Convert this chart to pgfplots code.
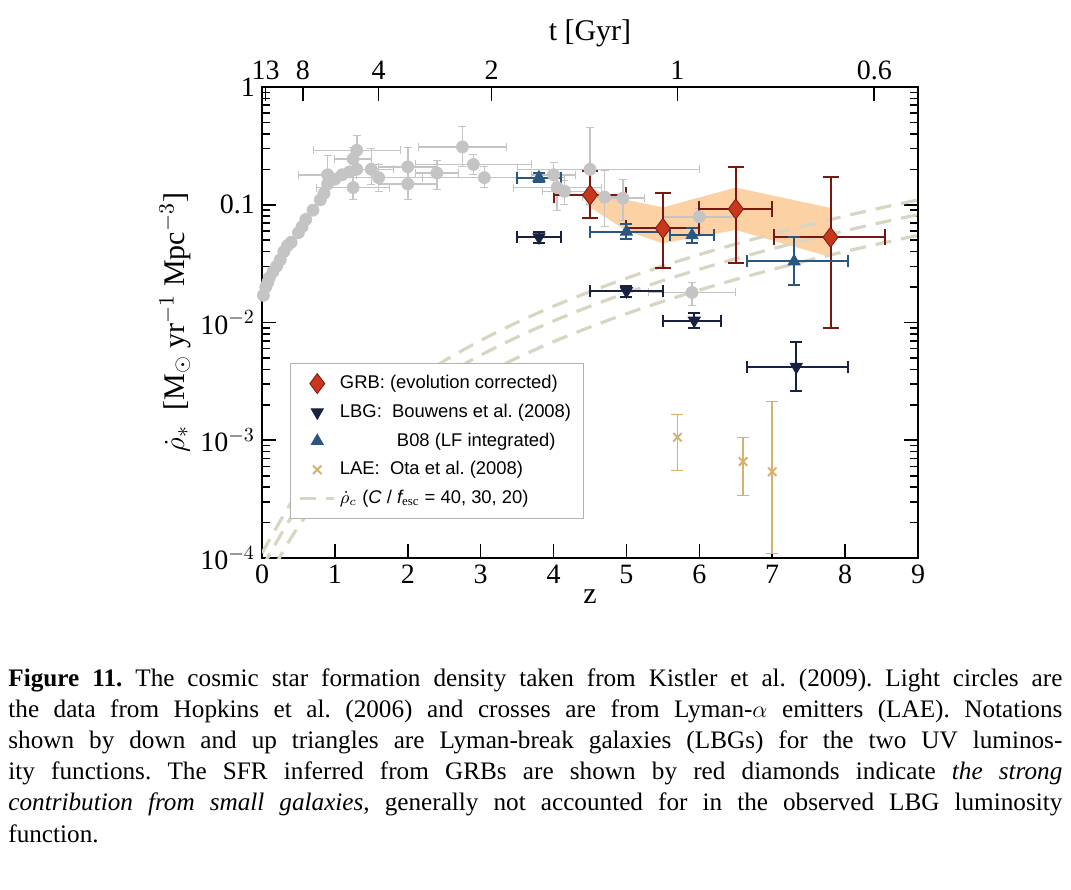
\documentclass[border=0pt]{standalone}
\usepackage{fontspec}
\setmainfont{Liberation Serif}
\newfontfamily\sans{Liberation Sans}
\usepackage{pgfplots}
\pgfplotsset{compat=1.18}
\definecolor{grbfill}{HTML}{C8361C}
\definecolor{grbdraw}{HTML}{7A1712}
\definecolor{lbgdn}{HTML}{16223F}
\definecolor{lbgup}{HTML}{2A5682}
\definecolor{lae}{HTML}{D6B26E}
\definecolor{hop}{HTML}{C4C4C4}
\definecolor{crit}{HTML}{D8D6C2}
\definecolor{band}{HTML}{FCD2A4}
\frenchspacing
\begin{document}
\begin{tikzpicture}
\path[use as bounding box] (0,0) rectangle (535.5pt,-444.5pt);
\begin{axis}[
  at={(131pt,-279pt)}, anchor=south west,
  scale only axis, width=328pt, height=235.5pt,
  xmin=0, xmax=9, ymin=1e-4, ymax=1, ymode=log,
  xtick={0,...,9}, ytick={1e-4,1e-3,1e-2,0.1,1},
  yticklabels={10$^{-4}$,10$^{-3}$,10$^{-2}$,0.1,1},
  /pgf/number format/assume math mode=true,
  tick label style={font=\fontsize{14}{14}\selectfont},
  xlabel={z}, xlabel style={font=\fontsize{15}{15}\selectfont, yshift=4pt},
  ylabel={$\dot\rho_*$ \ [M$_\odot$ yr$^{-1}$ Mpc$^{-3}$]},
  ylabel style={font=\fontsize{15}{15}\selectfont, yshift=-2pt},
  xtick pos=bottom,
  major tick length=7pt, minor tick length=4pt,
  tick style={black, line width=0.8pt},
  axis line style={line width=0.8pt},
  legend style={at={(0.043,0.414)}, anchor=north west, font=\sans\fontsize{9.2}{11}\selectfont, draw=black!30, row sep=2.2pt, inner xsep=4pt, inner ysep=4pt, cells={anchor=west}},
  legend cell align=left,
]
% Orange band
\addplot[fill=band, draw=none, forget plot] coordinates {(4.45,0.14)(5.0,0.11)(5.5,0.095)(6.5,0.14)(7.8,0.094)(7.8,0.036)(6.5,0.061)(5.5,0.047)(5.0,0.06)(4.45,0.10)} -- cycle;
% Critical curves
\addplot[crit, line width=1.6pt, dash pattern=on 8pt off 5pt, forget plot, smooth] coordinates {(0,1.1e-4)(0.5,3.71e-4)(1,8.8e-4)(1.5,1.72e-3)(2,2.97e-3)(2.5,4.72e-3)(3,7.04e-3)(3.5,0.01002)(4,0.01375)(4.5,0.0183)(5,0.02376)(5.5,0.03021)(6,0.03773)(6.5,0.04641)(7,0.05632)(7.5,0.06755)(8,0.08019)(8.5,0.09431)(9,0.11)};
\addplot[crit, line width=1.6pt, dash pattern=on 8pt off 5pt, forget plot, smooth] coordinates {(0,8.25e-5)(0.5,2.78e-4)(1,6.6e-4)(1.5,1.29e-3)(2,2.23e-3)(2.5,3.54e-3)(3,5.28e-3)(3.5,7.52e-3)(4,0.01031)(4.5,0.01373)(5,0.01782)(5.5,0.02266)(6,0.0283)(6.5,0.03481)(7,0.04224)(7.5,0.05066)(8,0.06014)(8.5,0.07073)(9,0.0825)};
\addplot[crit, line width=1.6pt, dash pattern=on 8pt off 5pt, forget plot, smooth] coordinates {(0,5.5e-5)(0.5,1.86e-4)(1,4.4e-4)(1.5,8.6e-4)(2,1.49e-3)(2.5,2.36e-3)(3,3.52e-3)(3.5,5.01e-3)(4,6.88e-3)(4.5,9.15e-3)(5,0.01188)(5.5,0.01511)(6,0.01887)(6.5,0.02321)(7,0.02816)(7.5,0.03378)(8,0.0401)(8.5,0.04716)(9,0.055)};
% Hopkins (gray)
\addplot[only marks, mark=*, mark size=3pt, hop, forget plot] coordinates {(0.02,0.017)(0.05,0.02)(0.08,0.022)(0.1,0.024)(0.15,0.027)(0.2,0.03)(0.25,0.034)(0.3,0.04)(0.35,0.045)(0.4,0.048)(0.5,0.058)(0.55,0.065)(0.6,0.075)(0.7,0.09)(0.8,0.11)(0.85,0.125)(0.9,0.15)(1.0,0.165)(1.1,0.18)(1.2,0.19)(1.3,0.2)};
\addplot[only marks, mark=*, mark size=3pt, hop, forget plot,
  error bars/.cd, x dir=both, y dir=both, x explicit, y explicit,
  error bar style={hop, line width=0.8pt}, error mark options={hop, rotate=90, mark size=2pt}] coordinates {
(1.3,0.29) += (0.6,0.1) -= (0.6,0.08)
(1.25,0.245) += (0.25,0.06) -= (0.25,0.05)
(1.5,0.2) += (0.3,0.1) -= (0.3,0.05)
(1.6,0.17) += (0.6,0.05) -= (0.6,0.04)
(1.25,0.14) += (0.5,0.05) -= (0.5,0.03)
(2.0,0.21) += (0.4,0.1) -= (0.4,0.06)
(2.0,0.15) += (0.4,0.06) -= (0.4,0.04)
(2.4,0.186) += (0.3,0.05) -= (0.3,0.05)
(2.75,0.31) += (0.6,0.15) -= (0.6,0.1)
(2.9,0.22) += (0.8,0.05) -= (0.8,0.04)
(3.05,0.17) += (1.1,0.04) -= (1.4,0.03)
(0.9,0.18) += (0.4,0.08) -= (0.4,0.04)
(4.05,0.14) += (0.6,0.05) -= (0.6,0.05)
(4.15,0.13) += (0.3,0.03) -= (0.3,0.03)
(4.5,0.2) += (1.5,0.25) -= (1.0,0.1)
(4.0,0.18) += (0.3,0.05) -= (0.3,0.05)
(4.7,0.116) += (0.3,0.08) -= (0.3,0.05)
(4.95,0.114) += (0.3,0.05) -= (0.3,0.04)
(6.0,0.079) += (0.5,0.015) -= (0.5,0.015)
(5.9,0.018) += (0.6,0.004) -= (0.6,0.004)
};
% GRB
\addplot[only marks, mark=diamond*, mark size=5pt, mark options={fill=grbfill, draw=grbdraw},
  error bars/.cd, x dir=both, y dir=both, x explicit, y explicit,
  error bar style={grbdraw, line width=1pt}, error mark options={grbdraw, rotate=90, mark size=4pt, line width=1pt}] coordinates {
(4.5,0.121) += (0.5,0.074) -= (0.5,0.044)
(5.5,0.063) += (0.5,0.063) -= (0.5,0.034)
(6.5,0.092) += (0.5,0.118) -= (0.5,0.060)
(7.8,0.053) += (0.75,0.119) -= (0.78,0.0441)
};
\addlegendentry{GRB: (evolution corrected)}
% LBG down
\addplot[only marks, mark=triangle*, mark size=3.5pt, mark options={rotate=180, fill=lbgdn, draw=lbgdn},
  error bars/.cd, x dir=both, y dir=both, x explicit, y explicit,
  error bar style={lbgdn, line width=1pt}, error mark options={lbgdn, rotate=90, mark size=3pt, line width=1pt}] coordinates {
(3.8,0.053) += (0.3,0.006) -= (0.3,0.006)
(5.0,0.0185) += (0.5,0.002) -= (0.5,0.002)
(5.93,0.0104) += (0.37,0.0017) -= (0.43,0.0015)
(7.33,0.0042) += (0.71,0.0026) -= (0.68,0.0016)
};
\addlegendentry{LBG:\ \ Bouwens et al. (2008)}
% LBG up
\addplot[only marks, mark=triangle*, mark size=3.5pt, mark options={fill=lbgup, draw=lbgup},
  error bars/.cd, x dir=both, y dir=both, x explicit, y explicit,
  error bar style={lbgup, line width=1pt}, error mark options={lbgup, rotate=90, mark size=3pt, line width=1pt}] coordinates {
(3.8,0.17) += (0.3,0.015) -= (0.3,0.015)
(5.0,0.059) += (0.5,0.009) -= (0.5,0.008)
(5.9,0.055) += (0.3,0.008) -= (0.3,0.008)
(7.3,0.033) += (0.74,0.02) -= (0.65,0.012)
};
\addlegendentry{\hspace{3.1em}B08 (LF integrated)}
% LAE
\addplot[only marks, mark=x, mark size=3pt, mark options={lae, line width=1pt},
  error bars/.cd, y dir=both, y explicit,
  error bar style={lae, line width=0.8pt}, error mark options={lae, rotate=90, mark size=3pt}] coordinates {
(5.7,0.00106) += (0,0.0006) -= (0,0.0005)
(6.6,0.00066) += (0,0.0004) -= (0,0.00032)
(7.0,0.00054) += (0,0.0016) -= (0,0.00043)
};
\addlegendentry{LAE:\ \ Ota et al. (2008)}
\addlegendimage{crit, line width=1.6pt, dash pattern=on 8pt off 5pt}
\addlegendentry{$\dot\rho_c$ ({\itshape C} / {\itshape f}$_{\rm esc}$ = 40, 30, 20)}
\end{axis}
\begin{axis}[
  at={(131pt,-279pt)}, anchor=south west,
  scale only axis, width=328pt, height=235.5pt,
  xmin=0, xmax=9, ymin=0, ymax=1,
  axis x line*=top, hide y axis,
  xtick={0.05,0.56,1.6,3.15,5.7,8.4},
  xticklabels={13,8,4,2,1,0.6},
  tick label style={font=\fontsize{14}{14}\selectfont},
  major tick length=7pt,
  tick style={black, line width=0.8pt},
  axis line style={line width=0.8pt},
  xlabel={t [Gyr]}, xlabel style={font=\fontsize{15}{15}\selectfont},
]
\addplot[draw=none] coordinates {(0,0)};
\end{axis}
\node[anchor=north west, text width=527pt, align=justify, inner sep=0pt, font=\fontsize{12.6}{15.6}\selectfont] at (4pt,-334pt) {%
\textbf{Figure 11.} The cosmic star formation density taken from Kistler et al. (2009). Light circles are\linebreak
the data from Hopkins et al. (2006) and crosses are from Lyman-$\alpha$ emitters (LAE). Notations\linebreak
shown by down and up triangles are Lyman-break galaxies (LBGs) for the two UV luminos-\linebreak
ity functions. The SFR inferred from GRBs are shown by red diamonds indicate \textit{the strong}\linebreak
\textit{contribution from small galaxies}, generally not accounted for in the observed LBG luminosity\linebreak
function.};
\end{tikzpicture}
\end{document}
